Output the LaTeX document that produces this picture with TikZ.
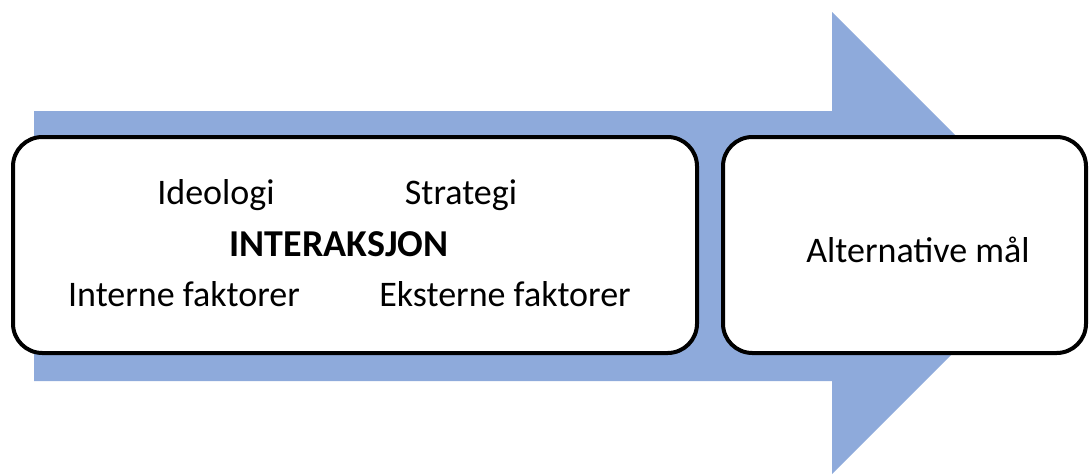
\documentclass[tikz,border=0pt]{standalone}
\usepackage{fontspec}
\setmainfont{Carlito}
\definecolor{arrowblue}{HTML}{8EAADB}
\begin{document}
\begin{tikzpicture}[x=0.75pt,y=-0.75pt,
  box/.style={draw=black,line width=3pt,fill=white,rounded corners=22pt},
  lbl/.style={font=\fontsize{27}{32}\selectfont,inner sep=0pt,anchor=base}]
\useasboundingbox (0,0) rectangle (1089,475);
\fill[arrowblue] (34,111) -- (832,111) -- (832,12) -- (1063,243) -- (832,474) -- (832,381) -- (34,381) -- cycle;
\draw[box] (13,137) rectangle (697,353);
\draw[box] (723,137) rectangle (1086,353);
\node[lbl] (ideo) at (216,204) {Ideologi};
\node[lbl] (strat) at (461,204) {Strategi};
\node[lbl,font=\fontsize{28.5}{33}\selectfont\bfseries] (inter) at (339,256) {INTERAKSJON};
\node[lbl] (intern) at (184,306) {Interne faktorer};
\node[lbl] (ekstern) at (505,306) {Eksterne faktorer};
\node[lbl] (alt) at (918,262) {Alternative mål};
\end{tikzpicture}
\end{document}
